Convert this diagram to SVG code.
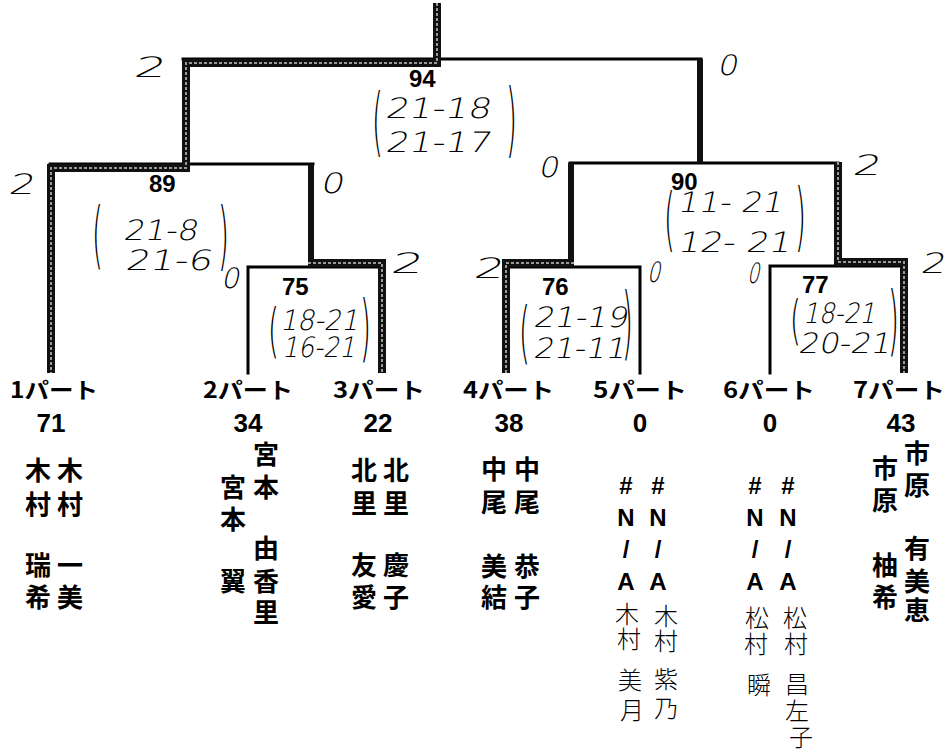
<svg xmlns="http://www.w3.org/2000/svg" width="947" height="754" viewBox="0 0 947 754">
<style>
.thin{fill:none;stroke:#000;stroke-width:3;stroke-linecap:square}
.win{fill:none;stroke:#111;stroke-width:8;stroke-linejoin:miter}
.mid{fill:none;stroke:#111;stroke-width:6}
.grain{fill:none;stroke:#9a9a9a;stroke-width:2;stroke-dasharray:3 2}
.lbl{font-family:"Noto Sans CJK JP","Noto Sans CJK SC",sans-serif;font-weight:bold;font-size:22px;fill:#000}
.num{font-family:"Liberation Sans",Arial,sans-serif;font-weight:bold;font-size:24px;fill:#000}
.sc{font-family:"Liberation Sans",Arial,sans-serif;font-weight:bold;font-size:26px;fill:#000;text-anchor:middle}
.nm{font-family:"Noto Sans CJK JP","Noto Sans CJK SC",sans-serif;font-weight:bold;font-size:26px;fill:#000;text-anchor:middle}
.la{font-family:"Liberation Sans",Arial,sans-serif;font-weight:bold;font-size:24px}
.hn{font-family:"Noto Sans CJK JP","Noto Sans CJK SC",sans-serif;font-weight:300;font-size:24px;fill:#000;text-anchor:middle}
.hw{font-family:"DejaVu Sans","Liberation Sans",sans-serif;font-weight:200;font-size:28px;fill:#000}
.par{font-family:"DejaVu Sans","Liberation Sans",sans-serif;font-weight:200;font-size:28px;fill:#000}
</style>
<rect width="947" height="754" fill="#fff"/>
<g id="connectors">
  <path class="thin" d="M183,59 H701"/>
  <path class="thin" d="M50,164 H313"/>
  <path class="thin" d="M248,373 V267 H382"/>
  <path class="thin" d="M570,163 H838"/>
  <path class="thin" d="M505,267 H640 V373"/>
  <path class="thin" d="M770,373 V266 H905"/>
  <path class="win" d="M437,3 V63 H186 V168 H51 V373"/>
  <path class="grain" d="M437,3 V63 H186 V168 H51 V373"/>
  <path class="mid" d="M311,164 V263"/>
  <path class="win" d="M308,263 H382 V373"/>
  <path class="grain" d="M308,263 H382 V373"/>
  <path class="mid" d="M700,59 V163"/>
  <path class="mid" d="M571,163 V263"/>
  <path class="win" d="M574,263 H506 V373"/>
  <path class="grain" d="M574,263 H506 V373"/>
  <path class="win" d="M838,162 V262 H904 V373"/>
  <path class="grain" d="M838,162 V262 H904 V373"/>
</g>
<g id="match-94">
  <text class="num" x="409" y="87">94</text>
  <text class="par" transform="translate(372,93) scale(1,2.66)" y="20.4">(</text>
  <text class="hw" transform="translate(385,118) skewX(-12)" textLength="105" lengthAdjust="spacingAndGlyphs">21-18</text>
  <text class="hw" transform="translate(385,152) skewX(-12)" textLength="105" lengthAdjust="spacingAndGlyphs">21-17</text>
  <text class="par" transform="translate(506,88) scale(1,2.9)" y="20.4">)</text>
  <text class="hw" transform="translate(133,77) skewX(-12)" textLength="32" lengthAdjust="spacingAndGlyphs">2</text>
  <text class="hw" transform="translate(717,75) skewX(-12)" textLength="20" lengthAdjust="spacingAndGlyphs">0</text>
</g>
<g id="match-89">
  <text class="num" x="149" y="192">89</text>
  <text class="par" transform="translate(92,207) scale(1,2.6)" y="20.4">(</text>
  <text class="hw" transform="translate(123,240) skewX(-12)" textLength="74" lengthAdjust="spacingAndGlyphs">21-8</text>
  <text class="hw" transform="translate(125,270) skewX(-12)" textLength="86" lengthAdjust="spacingAndGlyphs">21-6</text>
  <text class="par" transform="translate(218,207) scale(1,2.66)" y="20.4">)</text>
  <text class="hw" transform="translate(8,194) skewX(-12)" textLength="26" lengthAdjust="spacingAndGlyphs">2</text>
  <text class="hw" transform="translate(320,193) skewX(-12)" textLength="23" lengthAdjust="spacingAndGlyphs">0</text>
</g>
<g id="match-75">
  <text class="num" x="282" y="295">75</text>
  <text class="par" transform="translate(268,308) scale(1,2.1)" y="20.4">(</text>
  <text class="hw" transform="translate(280,330) skewX(-12)" textLength="78" lengthAdjust="spacingAndGlyphs">18-21</text>
  <text class="hw" transform="translate(282,357) skewX(-12)" textLength="73" lengthAdjust="spacingAndGlyphs">16-21</text>
  <text class="par" transform="translate(360,300) scale(1,2.6)" y="20.4">)</text>
  <text class="hw" transform="translate(221,288) skewX(-12)" textLength="18" lengthAdjust="spacingAndGlyphs">0</text>
  <text class="hw" transform="translate(390,273) skewX(-12)" textLength="32" lengthAdjust="spacingAndGlyphs">2</text>
</g>
<g id="match-90">
  <text class="num" x="671" y="190">90</text>
  <text class="par" transform="translate(664,193) scale(1,2.45)" y="20.4">(</text>
  <text class="hw" transform="translate(677,212) skewX(-12)" textLength="105" lengthAdjust="spacingAndGlyphs">11- 21</text>
  <text class="hw" transform="translate(677,252) skewX(-12)" textLength="113" lengthAdjust="spacingAndGlyphs">12- 21</text>
  <text class="par" transform="translate(795,188) scale(1,2.66)" y="20.4">)</text>
  <text class="hw" transform="translate(538,177) skewX(-12)" textLength="20" lengthAdjust="spacingAndGlyphs">0</text>
  <text class="hw" transform="translate(852,175) skewX(-12)" textLength="28" lengthAdjust="spacingAndGlyphs">2</text>
</g>
<g id="match-76">
  <text class="num" x="542" y="295">76</text>
  <text class="par" transform="translate(519,307) scale(1,2.4)" y="20.4">(</text>
  <text class="hw" transform="translate(533,327) skewX(-12)" textLength="94" lengthAdjust="spacingAndGlyphs">21-19</text>
  <text class="hw" transform="translate(533,358) skewX(-12)" textLength="92" lengthAdjust="spacingAndGlyphs">21-11</text>
  <text class="par" transform="translate(622,292) scale(1,2.85)" y="20.4">)</text>
  <text class="hw" transform="translate(473,278) skewX(-12)" textLength="30" lengthAdjust="spacingAndGlyphs">2</text>
  <text class="hw" transform="translate(647,282) skewX(-12)" textLength="13" lengthAdjust="spacingAndGlyphs">0</text>
</g>
<g id="match-77">
  <text class="num" x="802" y="293">77</text>
  <text class="par" transform="translate(790,300) scale(1,1.9)" y="20.4">(</text>
  <text class="hw" transform="translate(803,323) skewX(-12)" textLength="72" lengthAdjust="spacingAndGlyphs">18-21</text>
  <text class="hw" transform="translate(798,353) skewX(-12)" textLength="92" lengthAdjust="spacingAndGlyphs">20-21</text>
  <text class="par" transform="translate(888,290) scale(1,2.74)" y="20.4">)</text>
  <text class="hw" transform="translate(747,283) skewX(-12)" textLength="12" lengthAdjust="spacingAndGlyphs">0</text>
  <text class="hw" transform="translate(920,273) skewX(-12)" textLength="25" lengthAdjust="spacingAndGlyphs">2</text>
</g>
<g id="part-1">
  <text class="lbl" x="10" y="398" textLength="88" lengthAdjust="spacingAndGlyphs">1パート</text>
  <text class="sc" x="51" y="432">71</text>
  <text class="nm"><tspan x="38" y="480">木</tspan><tspan x="38" y="514">村</tspan><tspan x="38" y="575">瑞</tspan><tspan x="38" y="607">希</tspan></text>
  <text class="nm"><tspan x="70" y="480">木</tspan><tspan x="70" y="514">村</tspan><tspan x="70" y="575">一</tspan><tspan x="70" y="607">美</tspan></text>
</g>
<g id="part-2">
  <text class="lbl" x="203" y="398" textLength="90" lengthAdjust="spacingAndGlyphs">2パート</text>
  <text class="sc" x="248" y="432">34</text>
  <text class="nm"><tspan x="233" y="497">宮</tspan><tspan x="233" y="529">本</tspan><tspan x="233" y="591">翼</tspan></text>
  <text class="nm"><tspan x="266" y="464">宮</tspan><tspan x="266" y="497">本</tspan><tspan x="266" y="558">由</tspan><tspan x="266" y="591">香</tspan><tspan x="266" y="622">里</tspan></text>
</g>
<g id="part-3">
  <text class="lbl" x="333" y="398" textLength="92" lengthAdjust="spacingAndGlyphs">3パート</text>
  <text class="sc" x="378" y="432">22</text>
  <text class="nm"><tspan x="364" y="480">北</tspan><tspan x="364" y="513">里</tspan><tspan x="364" y="575">友</tspan><tspan x="364" y="607">愛</tspan></text>
  <text class="nm"><tspan x="396" y="480">北</tspan><tspan x="396" y="513">里</tspan><tspan x="396" y="575">慶</tspan><tspan x="396" y="607">子</tspan></text>
</g>
<g id="part-4">
  <text class="lbl" x="463" y="398" textLength="91" lengthAdjust="spacingAndGlyphs">4パート</text>
  <text class="sc" x="509" y="432">38</text>
  <text class="nm"><tspan x="494" y="479">中</tspan><tspan x="494" y="512">尾</tspan><tspan x="494" y="576">美</tspan><tspan x="494" y="607">結</tspan></text>
  <text class="nm"><tspan x="527" y="479">中</tspan><tspan x="527" y="512">尾</tspan><tspan x="527" y="576">恭</tspan><tspan x="527" y="607">子</tspan></text>
</g>
<g id="part-5">
  <text class="lbl" x="593" y="398" textLength="94" lengthAdjust="spacingAndGlyphs">5パート</text>
  <text class="sc" x="640" y="432">0</text>
  <text class="nm"><tspan class="la" x="626" y="494">#</tspan><tspan class="la" x="626" y="526">N</tspan><tspan class="la" x="626" y="558">/</tspan><tspan class="la" x="626" y="590">A</tspan></text>
  <text class="nm"><tspan class="la" x="658" y="494">#</tspan><tspan class="la" x="658" y="526">N</tspan><tspan class="la" x="658" y="558">/</tspan><tspan class="la" x="658" y="590">A</tspan></text>
  <text class="hn"><tspan x="627" y="623">木</tspan><tspan x="629" y="648">村</tspan><tspan x="630" y="689">美</tspan><tspan x="632" y="719">月</tspan></text>
  <text class="hn"><tspan x="666" y="625">木</tspan><tspan x="666" y="650">村</tspan><tspan x="666" y="688">紫</tspan><tspan x="666" y="717">乃</tspan></text>
</g>
<g id="part-6">
  <text class="lbl" x="723" y="398" textLength="92" lengthAdjust="spacingAndGlyphs">6パート</text>
  <text class="sc" x="770" y="432">0</text>
  <text class="nm"><tspan class="la" x="755" y="494">#</tspan><tspan class="la" x="755" y="526">N</tspan><tspan class="la" x="755" y="558">/</tspan><tspan class="la" x="755" y="590">A</tspan></text>
  <text class="nm"><tspan class="la" x="788" y="494">#</tspan><tspan class="la" x="788" y="526">N</tspan><tspan class="la" x="788" y="558">/</tspan><tspan class="la" x="788" y="590">A</tspan></text>
  <text class="hn"><tspan x="757" y="627">松</tspan><tspan x="756" y="653">村</tspan><tspan x="759" y="694">瞬</tspan></text>
  <text class="hn"><tspan x="795" y="627">松</tspan><tspan x="796" y="653">村</tspan><tspan x="797" y="693">昌</tspan><tspan x="797" y="720">左</tspan><tspan x="801" y="746">子</tspan></text>
</g>
<g id="part-7">
  <text class="lbl" x="853" y="398" textLength="92" lengthAdjust="spacingAndGlyphs">7パート</text>
  <text class="sc" x="901" y="432">43</text>
  <text class="nm"><tspan x="885" y="478">市</tspan><tspan x="885" y="510">原</tspan><tspan x="885" y="575">柚</tspan><tspan x="885" y="607">希</tspan></text>
  <text class="nm"><tspan x="917" y="463">市</tspan><tspan x="917" y="495">原</tspan><tspan x="917" y="558">有</tspan><tspan x="917" y="591">美</tspan><tspan x="917" y="620">恵</tspan></text>
</g>
</svg>
